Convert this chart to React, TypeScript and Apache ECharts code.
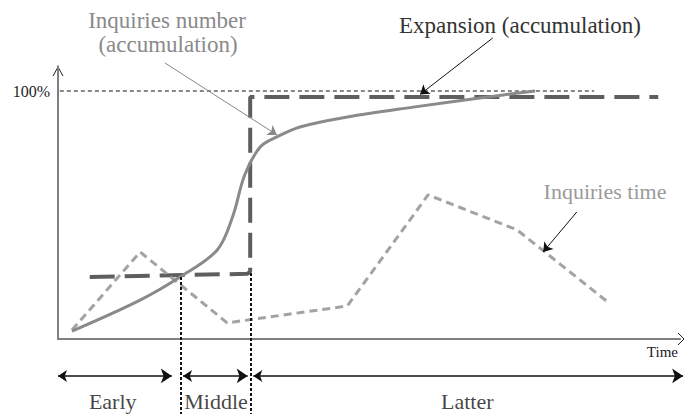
import React, { useEffect, useRef } from "react";
import * as echarts from "echarts";

const X_MAX = 100;
const Y_MAX = 110;

// Inquiries number (accumulation) – smooth S-curve
const numberX = [2.25, 13.2, 19.6, 25.6, 28.1, 30.0, 32.5, 35.2, 38.9, 46.5, 57.1, 67.8, 76.7];
const numberY = [3.2, 15.7, 25, 35.9, 49.5, 66, 77.4, 81.5, 85.5, 89.5, 93.5, 97.2, 100];

// Expansion (accumulation) – step
const expansionX = [5.1, 30.5, 30.9, 30.9, 96.5];
const expansionY = [25, 26.3, 27.4, 97.6, 97.6];

// Inquiries time
const timeX = [2.25, 13.2, 27.2, 46.5, 59.5, 73.8, 88.4];
const timeY = [3.6, 35.1, 6.5, 13.3, 58.1, 44, 14.9];

// 100% guide
const fullX = [0.3, 86.2];
const fullY = [100, 100];

// Stages
const stageNames = ["Early", "Middle", "Latter"];
const stageStart = [0, 20.1, 31.4];
const stageEnd = [18.3, 30.5, 100.5];
const stageLabelX = [8.8, 25.4, 65.8];
const boundaryX = [19.8, 31.0];
const boundaryTopY = [25, 26.6];
const ARROW_Y = -14.9;
const LABEL_Y = -25.4;
const BOTTOM_Y = -30.5;

// Annotation arrows [fromX, fromY, toX, toY]
const annNumber = [17.2, 111.3, 35.2, 82.3];
const annExpansion = [69.9, 121.4, 58.2, 98.6];
const annTime = [83.4, 51.2, 78.0, 35.1];

const FONT = "Liberation Serif, Times New Roman, serif";

const zip = (xs: number[], ys: number[]) => xs.map((x, i) => [x, ys[i]]);

export default function App() {
  const ref = useRef<HTMLDivElement>(null);
  useEffect(() => {
    if (!ref.current) return;
    const chart = echarts.init(ref.current, null, { renderer: "svg" });
    const arrowLine = (a: number[], color: string, width: number) => ({
      coords: [
        [a[0], a[1]],
        [a[2], a[3]],
      ],
      lineStyle: { color, width },
    });
    chart.setOption({
      animation: false,
      backgroundColor: "#ffffff",
      grid: { left: 58, right: 5, top: 66.2, bottom: 75 },
      xAxis: {
        type: "value",
        min: 0,
        max: X_MAX,
        axisLine: { show: true, lineStyle: { color: "#808080", width: 2 } },
        axisTick: { show: false },
        axisLabel: { show: false },
        splitLine: { show: false },
      },
      yAxis: {
        type: "value",
        min: 0,
        max: Y_MAX,
        interval: 100,
        axisLine: { show: true, lineStyle: { color: "#808080", width: 2 } },
        axisTick: { show: false },
        splitLine: { show: false },
        axisLabel: {
          margin: 8,
          fontFamily: FONT,
          fontSize: 16,
          color: "#222",
          formatter: (v: number) => (v === 100 ? "100%" : ""),
        },
      },
      graphic: [
        {
          type: "polyline",
          shape: { points: [[53, 76], [58, 67], [63, 76]] },
          style: { stroke: "#222", fill: "none", lineWidth: 1 },
        },
        {
          type: "polyline",
          shape: { points: [[678, 333], [684, 339], [678, 345]] },
          style: { stroke: "#222", fill: "none", lineWidth: 1 },
        },
        {
          type: "text",
          x: 167,
          y: 20,
          style: { text: "Inquiries number", fontFamily: FONT, fontSize: 23, fill: "#8a8a8a", align: "center", verticalAlign: "middle" },
        },
        {
          type: "text",
          x: 168,
          y: 44,
          style: { text: "(accumulation)", fontFamily: FONT, fontSize: 23, fill: "#8a8a8a", align: "center", verticalAlign: "middle" },
        },
        {
          type: "text",
          x: 520,
          y: 25,
          style: { text: "Expansion (accumulation)", fontFamily: FONT, fontSize: 23, fill: "#333", align: "center", verticalAlign: "middle" },
        },
        {
          type: "text",
          x: 605,
          y: 191,
          style: { text: "Inquiries time", fontFamily: FONT, fontSize: 22, fill: "#9a9a9a", align: "center", verticalAlign: "middle" },
        },
        {
          type: "text",
          x: 678,
          y: 352,
          style: { text: "Time", fontFamily: FONT, fontSize: 15, fill: "#222", align: "right", verticalAlign: "middle" },
        },
      ],
      series: [
        {
          type: "line",
          data: zip(fullX, fullY),
          showSymbol: false,
          lineStyle: { color: "#111", width: 1, type: [4, 3] },
          z: 1,
        },
        {
          type: "line",
          name: "Expansion (accumulation)",
          data: zip(expansionX, expansionY),
          showSymbol: false,
          lineStyle: { color: "#5e5e5e", width: 4, type: [25, 10] },
          z: 2,
        },
        {
          type: "line",
          name: "Inquiries time",
          data: zip(timeX, timeY),
          showSymbol: false,
          lineStyle: { color: "#a3a3a3", width: 3, type: [8, 5] },
          z: 3,
        },
        {
          type: "line",
          name: "Inquiries number (accumulation)",
          data: zip(numberX, numberY),
          showSymbol: false,
          smooth: 0.35,
          lineStyle: { color: "#8a8a8a", width: 3 },
          z: 4,
        },
        {
          type: "lines",
          coordinateSystem: "cartesian2d",
          clip: false,
          silent: true,
          symbol: ["none", "none"],
          lineStyle: { color: "#111", width: 2, type: [3, 2], opacity: 1 },
          data: boundaryX.map((x, i) => ({
            coords: [
              [x, boundaryTopY[i]],
              [x, BOTTOM_Y],
            ],
          })),
          z: 5,
        },
        {
          type: "lines",
          coordinateSystem: "cartesian2d",
          clip: false,
          silent: true,
          symbol: ["arrow", "arrow"],
          symbolSize: [9, 11],
          lineStyle: { color: "#111", width: 1.5, opacity: 1 },
          data: stageNames.map((_, i) => ({
            coords: [
              [stageStart[i], ARROW_Y],
              [stageEnd[i], ARROW_Y],
            ],
          })),
          z: 5,
        },
        {
          type: "lines",
          coordinateSystem: "cartesian2d",
          clip: false,
          silent: true,
          symbol: ["none", "arrow"],
          symbolSize: [0, 9],
          lineStyle: { opacity: 1 },
          data: [
            arrowLine(annNumber, "#888", 1),
            arrowLine(annExpansion, "#111", 1),
            arrowLine(annTime, "#111", 1),
          ],
          z: 6,
        },
        {
          type: "scatter",
          clip: false,
          silent: true,
          symbolSize: 1,
          itemStyle: { color: "rgba(0,0,0,0)" },
          label: {
            show: true,
            position: "inside",
            formatter: "{b}",
            fontFamily: FONT,
            fontSize: 22,
            color: "#111",
          },
          data: stageNames.map((n, i) => ({ name: n, value: [stageLabelX[i], LABEL_Y] })),
          z: 6,
        },
      ],
    });
    return () => chart.dispose();
  }, []);
  return (
    <div
      ref={ref}
      style={{ position: "fixed", left: 0, top: 0, width: 685, height: 414, background: "#fff" }}
    />
  );
}
